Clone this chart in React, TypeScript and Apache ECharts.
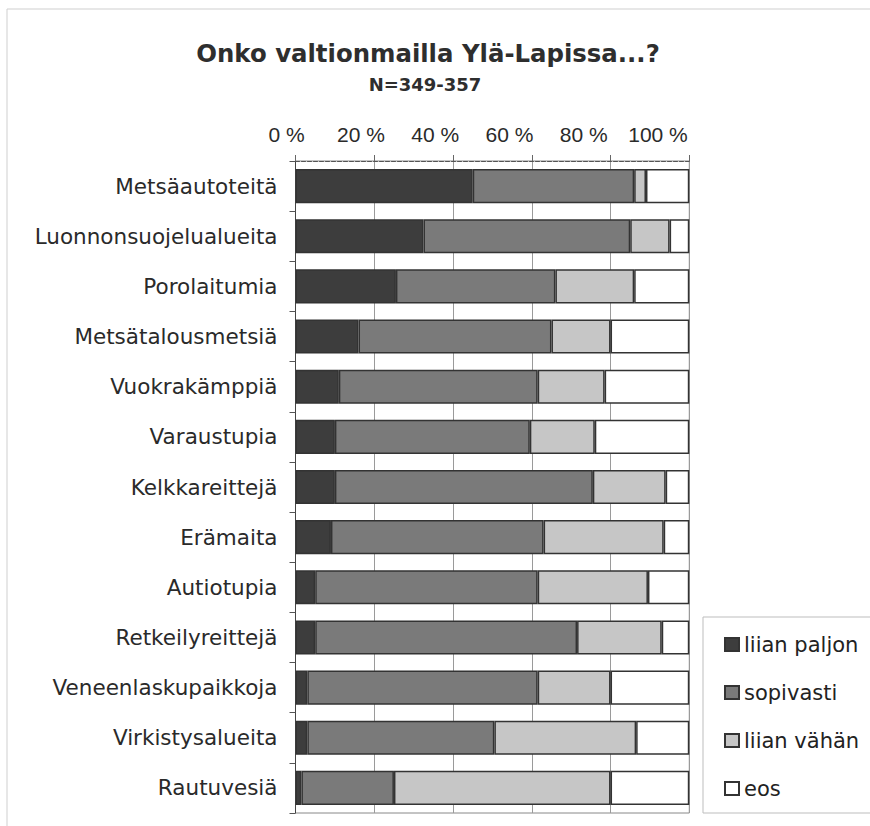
import React, { useEffect, useRef } from "react";
import * as echarts from "echarts";

const categories = [
  "Metsäautoteitä",
  "Luonnonsuojelualueita",
  "Porolaitumia",
  "Metsätalousmetsiä",
  "Vuokrakämppiä",
  "Varaustupia",
  "Kelkkareittejä",
  "Erämaita",
  "Autiotupia",
  "Retkeilyreittejä",
  "Veneenlaskupaikkoja",
  "Virkistysalueita",
  "Rautuvesiä",
];

const liianPaljon = [45, 32.5, 25.5, 16, 11, 10, 10, 9, 5, 5, 3, 3, 1.5];
const sopivasti = [41, 52.5, 40.5, 49, 50.5, 49.5, 65.5, 54, 56.5, 66.5, 58.5, 47.5, 23.5];
const liianVahan = [3, 10, 20, 15, 17, 16.5, 18.5, 30.5, 28, 21.5, 18.5, 36, 55];
const eos = [11, 5, 14, 20, 21.5, 24, 6, 6.5, 10.5, 7, 20, 13.5, 20];

const seriesNames = ["liian paljon", "sopivasti", "liian vähän", "eos"];
const seriesValues = [liianPaljon, sopivasti, liianVahan, eos];
const seriesColors = ["#3d3d3d", "#7a7a7a", "#c6c6c6", "#ffffff"];

const tickLabels = ["0 %", "20 %", "40 %", "60 %", "80 %", "100 %"];

const FONT = '"Liberation Sans", Arial, sans-serif';
const WIDE = '"DejaVu Sans", sans-serif';

export default function App() {
  const ref = useRef<HTMLDivElement>(null);

  useEffect(() => {
    if (!ref.current) return;
    const chart = echarts.init(ref.current, undefined, { renderer: "svg" });
    chart.setOption({
      animation: false,
      backgroundColor: "#ffffff",
      textStyle: { fontFamily: FONT },
      graphic: [
        {
          type: "rect",
          shape: { x: 7, y: 9, width: 880, height: 830 },
          style: { fill: "none", stroke: "#cfcfcf", lineWidth: 1 },
          silent: true,
          z: -10,
        },
        {
          type: "rect",
          shape: { x: 703, y: 617, width: 180, height: 196 },
          style: { fill: "none", stroke: "#bdbdbd", lineWidth: 1 },
          silent: true,
        },
        {
          type: "text",
          x: 428,
          y: 53,
          style: {
            text: "Onko valtionmailla Ylä-Lapissa...?",
            textAlign: "center",
            textVerticalAlign: "middle",
            font: `bold 24.4px ${WIDE}`,
            fill: "#2e2e2e",
          },
        },
        {
          type: "text",
          x: 425,
          y: 84,
          style: {
            text: "N=349-357",
            textAlign: "center",
            textVerticalAlign: "middle",
            font: `bold 18px ${WIDE}`,
            fill: "#2e2e2e",
          },
        },
      ],
      legend: {
        orient: "vertical",
        left: 719,
        top: 629,
        itemWidth: 14,
        itemHeight: 13,
        itemGap: 27,
        icon: "rect",
        data: seriesNames,
        textStyle: { fontSize: 21, color: "#222", fontFamily: WIDE, lineHeight: 21 },
      },
      grid: [
        { left: 295.5, right: 180.7, top: 161, bottom: 13, show: true, borderColor: "#888", borderWidth: 1 },
        { left: 286.7, right: 212, top: 161, height: 1, show: false },
      ],
      xAxis: [
        {
          type: "value",
          gridIndex: 0,
          min: 0,
          max: 100,
          interval: 20,
          position: "top",
          axisLine: { show: true, lineStyle: { color: "#555", type: "dashed", width: 1 } },
          axisTick: { show: true, length: 6, lineStyle: { color: "#666" } },
          axisLabel: { show: false },
          splitLine: { show: true, lineStyle: { color: "#9a9a9a", width: 1 } },
        },
        {
          type: "category",
          gridIndex: 1,
          position: "top",
          data: tickLabels,
          boundaryGap: false,
          axisLine: { show: false },
          axisTick: { show: false },
          splitLine: { show: false },
          axisLabel: { show: true, fontSize: 21, color: "#2a2a2a", margin: 16, fontFamily: FONT, interval: 0 },
        },
      ],
      yAxis: [
        {
          type: "category",
          gridIndex: 0,
          data: categories,
          inverse: true,
          axisLine: { show: true, lineStyle: { color: "#444", width: 1 } },
          axisTick: { show: true, length: 6, lineStyle: { color: "#555" } },
          axisLabel: { fontSize: 21.5, color: "#2a2a2a", margin: 18, fontFamily: WIDE },
        },
        { type: "value", gridIndex: 1, show: false },
      ],
      series: seriesNames.map((name, i) => ({
        name,
        type: "bar",
        stack: "total",
        xAxisIndex: 0,
        yAxisIndex: 0,
        barCategoryGap: "32%",
        data: seriesValues[i],
        itemStyle: { color: seriesColors[i], borderColor: "#333", borderWidth: 1.5 },
      })),
    });
    return () => chart.dispose();
  }, []);

  return (
    <div
      ref={ref}
      style={{ position: "fixed", left: 0, top: 0, width: 870, height: 826 }}
    />
  );
}
